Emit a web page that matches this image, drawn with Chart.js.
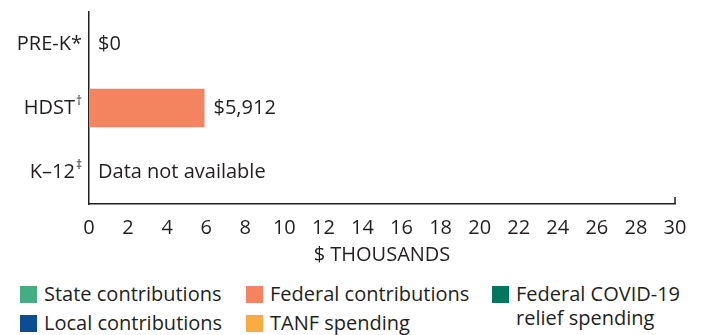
<!DOCTYPE html>
<html>
<head>
<meta charset="utf-8">
<script src="https://cdn.jsdelivr.net/npm/chart.js@4"></script>
<style>
  body { margin: 0; background: #fff; font-family: "Open Sans", sans-serif; color: #231f20; }
  #wrap { position: relative; width: 706px; height: 335px; overflow: hidden; }
  #chart { position: absolute; left: 0; top: 0; }
  .legend { position: absolute; font-size: 20px; line-height: 24px; white-space: nowrap; }
  .legend span.box { position: absolute; left: 0; top: 4px; width: 17px; height: 17px; }
  .legend span.text { display: block; margin-left: 24px; }
</style>
</head>
<body>
<div id="wrap">
  <canvas id="chart" width="706" height="267"></canvas>
  <div id="legend"></div>
</div>
<script>
const FONT = "Open Sans";
const TEXT = "#231f20";

const categories = ["PRE-K*", "HDST\u2020", "K\u201312\u2021"];

// spending per child, $ thousands
const stateValues = [0, 0, null];
const federalValues = [0, 5.912, null];
const covidValues = [0, 0, null];
const localValues = [0, 0, null];
const tanfValues = [0, 0, null];

const xTicks = [0, 2, 4, 6, 8, 10, 12, 14, 16, 18, 20, 22, 24, 26, 28, 30];

const series = [
  { label: "State contributions", data: stateValues, color: "#45ad84" },
  { label: "Federal contributions", data: federalValues, color: "#f4845f" },
  { label: "Federal COVID-19 relief spending", data: covidValues, color: "#00775e" },
  { label: "Local contributions", data: localValues, color: "#0b4c94" },
  { label: "TANF spending", data: tanfValues, color: "#fbac41" },
];

// legend: three columns, two rows
const legendSlots = [
  { left: 20, top: 282 },
  { left: 246, top: 282 },
  { left: 492, top: 282 },
  { left: 20, top: 311 },
  { left: 246, top: 311 },
];
const legendEl = document.querySelector("#legend");
for (let i = 0; i < series.length; i++) {
  const item = document.createElement("div");
  item.className = "legend";
  item.style.left = legendSlots[i].left + "px";
  item.style.top = legendSlots[i].top + "px";
  let text = series[i].label;
  if (text.indexOf("COVID") >= 0) text = "Federal COVID-19<br>relief spending";
  item.innerHTML = '<span class="box" style="background:' + series[i].color + '"></span><span class="text">' + text + "</span>";
  legendEl.appendChild(item);
}

function totalFor(index) {
  let total = null;
  for (let i = 0; i < series.length; i++) {
    const v = series[i].data[index];
    if (v !== null) total = (total || 0) + v;
  }
  return total;
}

// category names with the footnote marks raised
function drawCategory(ctx, label, right, cy) {
  let main = label;
  let mark = "";
  const last = label.charAt(label.length - 1);
  if (last === "\u2020" || last === "\u2021") {
    main = label.slice(0, -1);
    mark = last;
  }
  ctx.textAlign = "right";
  ctx.textBaseline = "middle";
  let x = right;
  if (mark) {
    ctx.font = "12px '" + FONT + "'";
    ctx.fillText(mark, x, cy - 6);
    x -= ctx.measureText(mark).width + 1;
  }
  ctx.font = "20px '" + FONT + "'";
  ctx.fillText(main, x, cy);
}

const labelsPlugin = {
  id: "labelsPlugin",
  afterDatasetsDraw(chart) {
    const ctx = chart.ctx;
    const x = chart.scales.x;
    const y = chart.scales.y;
    ctx.save();
    ctx.fillStyle = TEXT;
    for (let i = 0; i < categories.length; i++) {
      const cy = y.getPixelForValue(i);
      drawCategory(ctx, categories[i], chart.chartArea.left - 7, cy);

      const total = totalFor(i);
      let text = "Data not available";
      let px = x.getPixelForValue(0);
      if (total !== null) {
        text = "$" + Math.round(total * 1000).toLocaleString("en-US");
        px = x.getPixelForValue(total);
      }
      ctx.font = "20px '" + FONT + "'";
      ctx.textAlign = "left";
      ctx.textBaseline = "middle";
      ctx.fillText(text, px + 9, cy);
    }
    // end tick at the top of the x range
    const endX = x.getPixelForValue(xTicks[xTicks.length - 1]);
    ctx.strokeStyle = TEXT;
    ctx.lineWidth = 1.5;
    ctx.beginPath();
    ctx.moveTo(endX, x.top - 7);
    ctx.lineTo(endX, x.top);
    ctx.stroke();
    ctx.restore();
  },
};

new Chart(document.querySelector("#chart").getContext("2d"), {
  type: "bar",
  data: {
    labels: categories,
    datasets: series.map(function (s) {
      return {
        label: s.label,
        data: s.data,
        backgroundColor: s.color,
        borderWidth: 0,
        barPercentage: 0.6,
        categoryPercentage: 1,
      };
    }),
  },
  options: {
    indexAxis: "y",
    responsive: false,
    animation: false,
    layout: { padding: { top: 12, right: 31, left: 0, bottom: 0 } },
    plugins: {
      legend: { display: false },
      tooltip: { enabled: false },
    },
    scales: {
      x: {
        stacked: true,
        min: 0,
        max: 30,
        afterBuildTicks(scale) {
          scale.ticks = xTicks.map(function (v) { return { value: v }; });
        },
        afterFit(scale) { scale.height = 63; },
        grid: { display: false, drawTicks: false },
        border: { display: true, color: TEXT, width: 1.5 },
        ticks: { color: TEXT, font: { family: FONT, size: 20 }, padding: 12, maxRotation: 0 },
        title: {
          display: true,
          text: "$ THOUSANDS",
          color: TEXT,
          font: { family: FONT, size: 20 },
          padding: { top: 0, bottom: 0 },
        },
      },
      y: {
        stacked: true,
        afterFit(scale) { scale.width = 89; },
        grid: { display: false, drawTicks: false },
        border: { display: true, color: TEXT, width: 1.5 },
        ticks: { display: false },
      },
    },
  },
  plugins: [labelsPlugin],
});
</script>
</body>
</html>
